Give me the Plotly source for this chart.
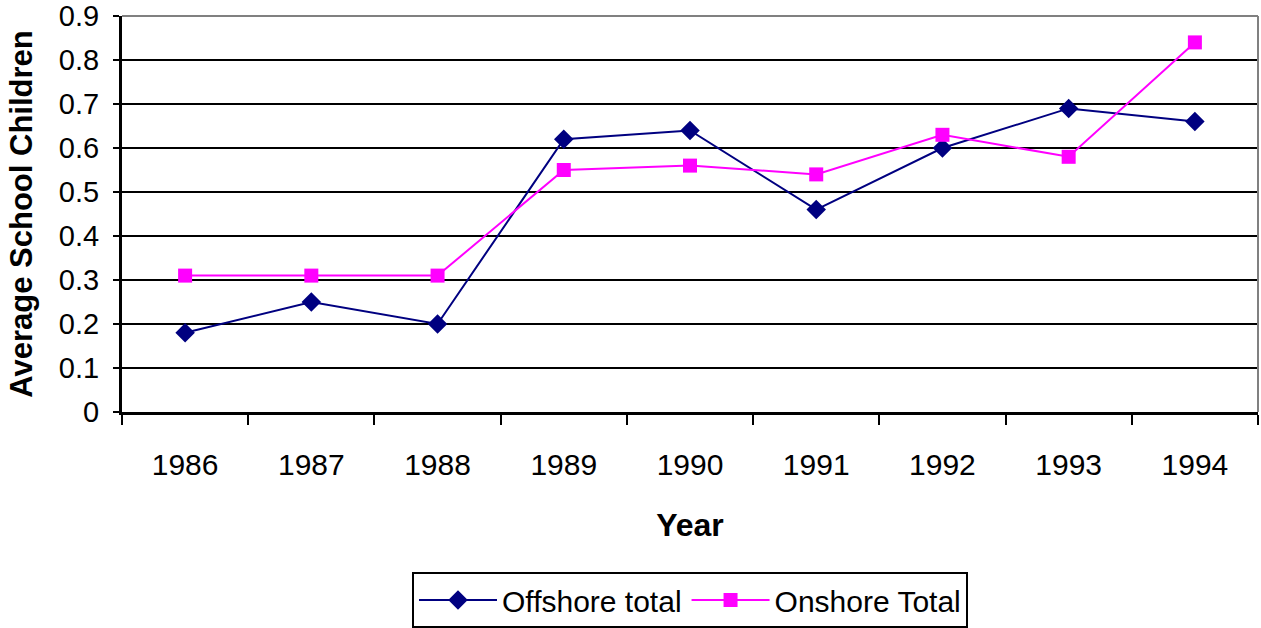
import plotly.graph_objects as go

years = ["1986", "1987", "1988", "1989", "1990", "1991", "1992", "1993", "1994"]
offshore = [0.18, 0.25, 0.20, 0.62, 0.64, 0.46, 0.60, 0.69, 0.66]
onshore = [0.31, 0.31, 0.31, 0.55, 0.56, 0.54, 0.63, 0.58, 0.84]
y_ticks = [0, 0.1, 0.2, 0.3, 0.4, 0.5, 0.6, 0.7, 0.8, 0.9]
y_labels = ["0", "0.1", "0.2", "0.3", "0.4", "0.5", "0.6", "0.7", "0.8", "0.9"]

FONT = "Liberation Sans, Arial, sans-serif"

fig = go.Figure()
fig.add_trace(go.Scatter(
    x=years, y=offshore, name="Offshore total", mode="lines+markers",
    line=dict(color="#000080", width=2),
    marker=dict(symbol="diamond", size=15, color="#000080"),
))
fig.add_trace(go.Scatter(
    x=years, y=onshore, name="Onshore Total", mode="lines+markers",
    line=dict(color="#FF00FF", width=2),
    marker=dict(symbol="square", size=14, color="#FF00FF"),
))

fig.update_layout(
    width=1261, height=628,
    margin=dict(l=122, r=3, t=16, b=216, autoexpand=False),
    paper_bgcolor="white", plot_bgcolor="white",
    font=dict(family=FONT, color="black", size=29),
    showlegend=True,
    legend=dict(
        orientation="h", x=0.5, xanchor="center", y=-0.404, yanchor="top",
        bordercolor="black", borderwidth=2, font=dict(size=30, family=FONT),
        itemwidth=78, tracegroupgap=0,
    ),
    xaxis=dict(
        type="category", tickson="boundaries", ticks="outside", ticklen=10,
        tickwidth=2, tickcolor="black", showline=True, linecolor="black",
        linewidth=3, showgrid=False, range=[-0.5, 8.5], automargin=False,
        tickfont=dict(size=30), ticklabelstandoff=24,
        title=dict(text="<b>Year</b>", font=dict(size=32), standoff=34),
    ),
    yaxis=dict(
        range=[0, 0.9], tickvals=y_ticks, ticktext=y_labels, automargin=False,
        ticks="outside", ticklen=6, tickwidth=2, tickcolor="black",
        showline=True, linecolor="black", linewidth=3,
        showgrid=True, gridcolor="black", gridwidth=2,
        zeroline=False, tickfont=dict(size=29), ticklabelstandoff=8,
        title=dict(text="<b>Average School Children</b>", font=dict(size=31), standoff=18),
    ),
)

# grey frame on top and right of plot area
fig.add_shape(type="line", xref="paper", yref="paper", x0=0, x1=1, y0=1, y1=1,
              line=dict(color="#808080", width=2))
fig.add_shape(type="line", xref="paper", yref="paper", x0=1, x1=1, y0=0, y1=1,
              line=dict(color="#808080", width=2))

fig.write_html("out.html", config={"displayModeBar": False})

# remove default page margin so the figure fills the window exactly
with open("out.html", "r", encoding="utf-8") as f:
    html = f.read()
html = html.replace("<head>", "<head><style>html,body{margin:0;padding:0;overflow:hidden;}</style>", 1)
with open("out.html", "w", encoding="utf-8") as f:
    f.write(html)
